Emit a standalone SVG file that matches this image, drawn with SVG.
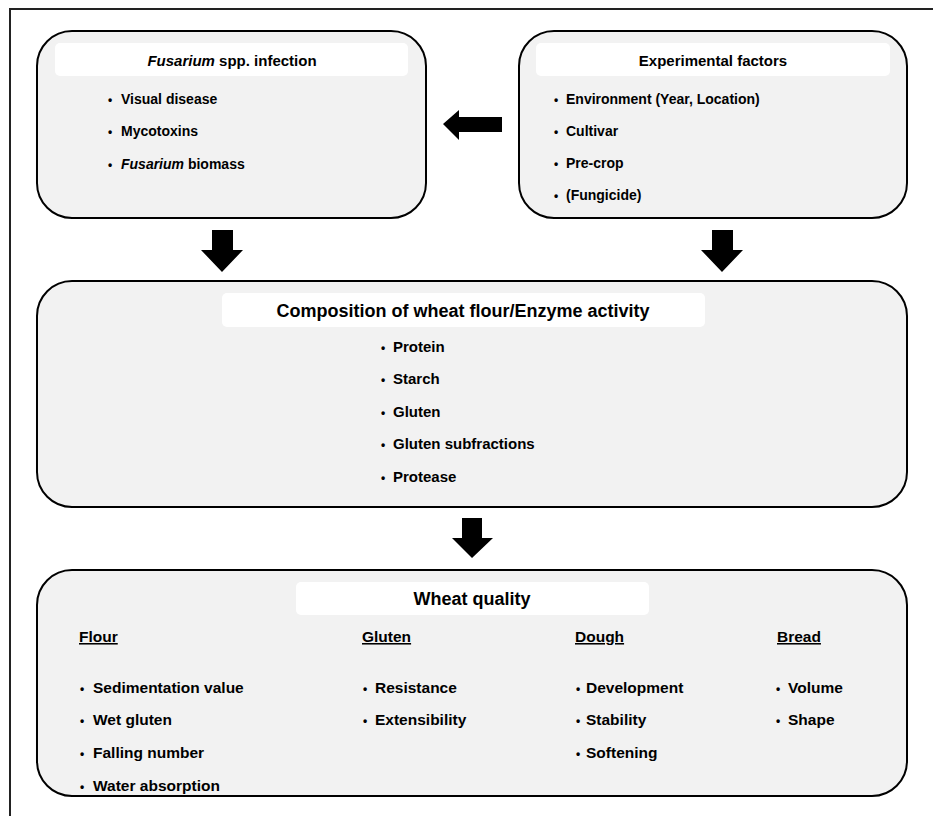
<svg xmlns="http://www.w3.org/2000/svg" width="933" height="816" viewBox="0 0 933 816">
<style>
.box{fill:#f2f2f2;stroke:#000;stroke-width:2}
.hdr{fill:#fff;stroke:none}
.ttl{font-family:"Liberation Sans",Arial,sans-serif;font-weight:bold;font-size:15px;fill:#000;text-anchor:middle}
.big{font-size:18px}
.t{font-family:"Liberation Sans",Arial,sans-serif;font-weight:bold;font-size:14px;fill:#000}
.m{font-size:15px}
.l{font-size:15.5px}
.b{font-size:12px}
.u{text-decoration:underline}
.arr{fill:#000;stroke:none}
</style>
<rect width="933" height="816" fill="#fff"/>
<path d="M10 816 V9 H933" fill="none" stroke="#222" stroke-width="2"/>

<g id="fusarium">
<rect class="box" x="37" y="31" width="389" height="187" rx="35"/>
<rect class="hdr" x="55" y="43" width="353" height="33" rx="5"/>
<text class="ttl" x="232" y="66"><tspan font-style="italic">Fusarium</tspan> spp. infection</text>
<text class="t" y="104"><tspan class="b" x="108">•</tspan><tspan x="121">Visual disease</tspan></text>
<text class="t" y="136"><tspan class="b" x="108">•</tspan><tspan x="121">Mycotoxins</tspan></text>
<text class="t" y="169"><tspan class="b" x="108">•</tspan><tspan x="121" font-style="italic">Fusarium</tspan> biomass</text>
</g>

<g id="experimental">
<rect class="box" x="519" y="31" width="388" height="187" rx="35"/>
<rect class="hdr" x="536" y="43" width="354" height="33" rx="5"/>
<text class="ttl" x="713" y="66">Experimental factors</text>
<text class="t" y="104"><tspan class="b" x="554">•</tspan><tspan x="566">Environment (Year, Location)</tspan></text>
<text class="t" y="136"><tspan class="b" x="554">•</tspan><tspan x="566">Cultivar</tspan></text>
<text class="t" y="168"><tspan class="b" x="554">•</tspan><tspan x="566">Pre-crop</tspan></text>
<text class="t" y="200"><tspan class="b" x="554">•</tspan><tspan x="566">(Fungicide)</tspan></text>
</g>

<g id="composition">
<rect class="box" x="37" y="281" width="870" height="226" rx="35"/>
<rect class="hdr" x="222" y="293" width="483" height="34" rx="5"/>
<text class="ttl big" x="463" y="317">Composition of wheat flour/Enzyme activity</text>
<text class="t m" y="352"><tspan class="b" x="381">•</tspan><tspan x="393">Protein</tspan></text>
<text class="t m" y="384"><tspan class="b" x="381">•</tspan><tspan x="393">Starch</tspan></text>
<text class="t m" y="417"><tspan class="b" x="381">•</tspan><tspan x="393">Gluten</tspan></text>
<text class="t m" y="449"><tspan class="b" x="381">•</tspan><tspan x="393">Gluten subfractions</tspan></text>
<text class="t m" y="482"><tspan class="b" x="381">•</tspan><tspan x="393">Protease</tspan></text>
</g>

<g id="quality">
<rect class="box" x="37" y="570" width="870" height="226" rx="35"/>
<rect class="hdr" x="296" y="582" width="353" height="33" rx="5"/>
<text class="ttl big" x="472" y="605">Wheat quality</text>
<text class="t l u" x="79" y="642">Flour</text>
<text class="t l u" x="362" y="642">Gluten</text>
<text class="t l u" x="575" y="642">Dough</text>
<text class="t l u" x="777" y="642">Bread</text>
<text class="t l" y="693"><tspan class="b" x="80">•</tspan><tspan x="93">Sedimentation value</tspan></text>
<text class="t l" y="725"><tspan class="b" x="80">•</tspan><tspan x="93">Wet gluten</tspan></text>
<text class="t l" y="758"><tspan class="b" x="80">•</tspan><tspan x="93">Falling number</tspan></text>
<text class="t l" y="791"><tspan class="b" x="80">•</tspan><tspan x="93">Water absorption</tspan></text>
<text class="t l" y="693"><tspan class="b" x="363">•</tspan><tspan x="375">Resistance</tspan></text>
<text class="t l" y="725"><tspan class="b" x="363">•</tspan><tspan x="375">Extensibility</tspan></text>
<text class="t l" y="693"><tspan class="b" x="576">•</tspan><tspan x="586">Development</tspan></text>
<text class="t l" y="725"><tspan class="b" x="576">•</tspan><tspan x="586">Stability</tspan></text>
<text class="t l" y="758"><tspan class="b" x="576">•</tspan><tspan x="586">Softening</tspan></text>
<text class="t l" y="693"><tspan class="b" x="776">•</tspan><tspan x="788">Volume</tspan></text>
<text class="t l" y="725"><tspan class="b" x="776">•</tspan><tspan x="788">Shape</tspan></text>
</g>

<g id="connectors">
<path class="arr" d="M443 124 L459 110 L459 117 L502 117 L502 132 L459 132 L459 140 Z"/>
<path class="arr" d="M212 230 H233 V250 H243 L222 272 L201 250 H212 Z"/>
<path class="arr" d="M712 230 H733 V250 H743 L722 272 L701 250 H712 Z"/>
<path class="arr" d="M462 518 H482 V538 H493 L472 558 L452 538 H462 Z"/>
</g>
</svg>
